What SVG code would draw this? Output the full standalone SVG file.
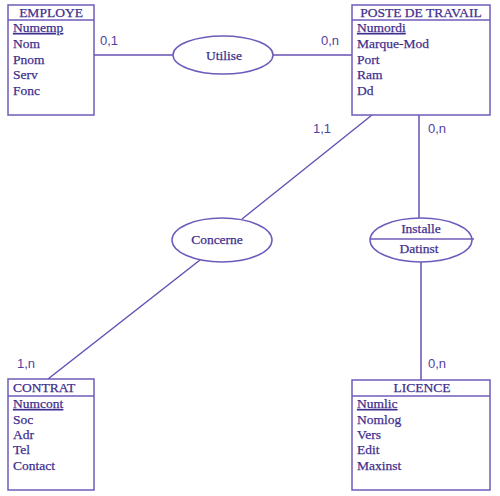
<svg xmlns="http://www.w3.org/2000/svg" width="500" height="496" viewBox="0 0 500 496">
<style>
.box{fill:#fff;stroke:#6f5bbb;stroke-width:1.5}
.ln{stroke:#6650b4;stroke-width:1.5;fill:none}
.t{font-family:"Liberation Serif",serif;font-size:13.5px;fill:#3f2f8e;stroke:#3f2f8e;stroke-width:0.25}
.c{text-anchor:middle}
.k{text-decoration:underline}
.card{font-family:"Liberation Sans",sans-serif;font-size:13px;fill:#5340a6}
</style>
<rect width="500" height="496" fill="#fff"/>
<g id="connectors">
<line class="ln" x1="94" y1="55" x2="173" y2="55"/>
<line class="ln" x1="273" y1="55" x2="352" y2="55"/>
<line class="ln" x1="372" y1="115" x2="242" y2="219"/>
<line class="ln" x1="200" y1="260" x2="48" y2="379"/>
<line class="ln" x1="419" y1="115" x2="419" y2="218"/>
<line class="ln" x1="421" y1="262" x2="421" y2="380"/>
<text class="card" x="100" y="45">0,1</text>
<text class="card" x="321" y="45">0,n</text>
<text class="card" x="313" y="133">1,1</text>
<text class="card" x="428" y="133">0,n</text>
<text class="card" x="17" y="368">1,n</text>
<text class="card" x="428" y="368">0,n</text>
</g>
<g id="employe">
<rect class="box" x="8" y="5" width="86" height="110"/>
<line class="box" x1="8" y1="20" x2="94" y2="20"/>
<text class="t c" x="51" y="17">EMPLOYE</text>
<text class="t k" x="13" y="32">Numemp</text>
<text class="t" x="13" y="48">Nom</text>
<text class="t" x="13" y="64">Pnom</text>
<text class="t" x="13" y="79">Serv</text>
<text class="t" x="13" y="95">Fonc</text>
</g>
<g id="poste">
<rect class="box" x="352" y="5" width="138" height="110"/>
<line class="box" x1="352" y1="20" x2="490" y2="20"/>
<text class="t c" x="421" y="17">POSTE DE TRAVAIL</text>
<text class="t k" x="357" y="32">Numordi</text>
<text class="t" x="357" y="48">Marque-Mod</text>
<text class="t" x="357" y="64">Port</text>
<text class="t" x="357" y="79">Ram</text>
<text class="t" x="357" y="95">Dd</text>
</g>
<g id="utilise">
<ellipse class="box" cx="223" cy="55" rx="50" ry="19"/>
<text class="t c" x="224" y="60">Utilise</text>
</g>
<g id="concerne">
<ellipse class="box" cx="222" cy="240" rx="50" ry="22"/>
<text class="t c" x="217" y="244">Concerne</text>
</g>
<g id="installe">
<ellipse class="box" cx="421" cy="240" rx="51" ry="22"/>
<line class="box" x1="370" y1="239" x2="474" y2="239"/>
<text class="t c" x="421" y="233">Installe</text>
<text class="t c" x="419" y="253">Datinst</text>
</g>
<g id="contrat">
<rect class="box" x="8" y="379" width="86" height="111"/>
<line class="box" x1="8" y1="396" x2="94" y2="396"/>
<text class="t" x="13" y="392">CONTRAT</text>
<text class="t k" x="13" y="408">Numcont</text>
<text class="t" x="13" y="424">Soc</text>
<text class="t" x="13" y="439">Adr</text>
<text class="t" x="13" y="454">Tel</text>
<text class="t" x="13" y="470">Contact</text>
</g>
<g id="licence">
<rect class="box" x="352" y="380" width="138" height="110"/>
<line class="box" x1="352" y1="396" x2="490" y2="396"/>
<text class="t c" x="422" y="392">LICENCE</text>
<text class="t k" x="357" y="408">Numlic</text>
<text class="t" x="357" y="424">Nomlog</text>
<text class="t" x="357" y="439">Vers</text>
<text class="t" x="357" y="454">Edit</text>
<text class="t" x="357" y="470">Maxinst</text>
</g>
</svg>
